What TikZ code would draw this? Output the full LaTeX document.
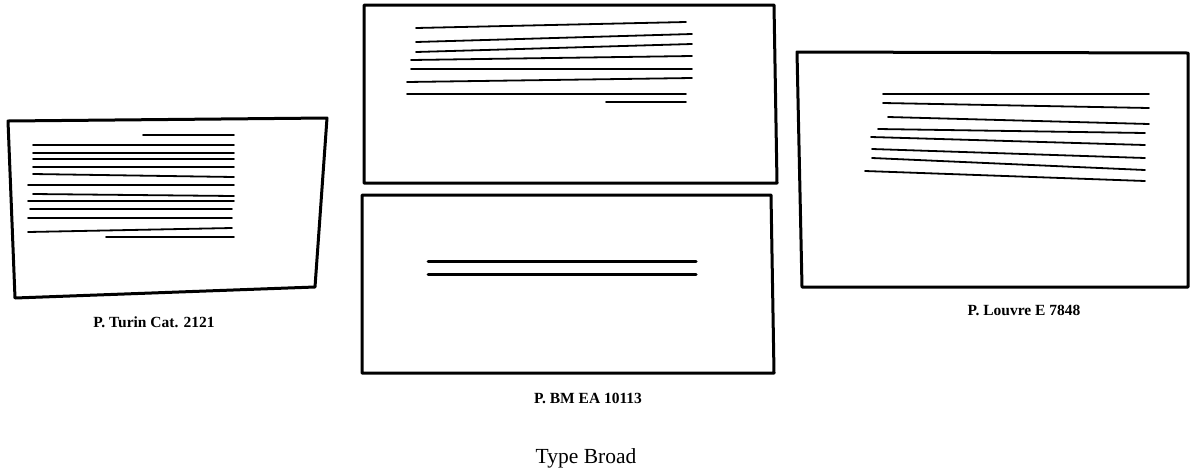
\documentclass[tikz,border=0pt]{standalone}
\usepackage{fontspec}
\setmainfont{Liberation Serif}
\begin{document}
\begin{tikzpicture}[x=1pt, y=-1pt, line cap=round,
    sheet/.style={line width=3pt, line join=round},
    writing/.style={line width=1.8pt},
    siglum/.style={font=\fontsize{15.5}{18}\selectfont\bfseries}]
    \useasboundingbox (0,0) rectangle (1190,472);
    % P. Turin Cat. 2121
    \draw[sheet] (8,121) -- (327,118) -- (315,287) -- (15,298) -- cycle;
    \draw[writing] (143,135) -- (234,135);
    \draw[writing] (33,145) -- (234,145);
    \draw[writing] (33,153) -- (234,153);
    \draw[writing] (33,159) -- (234,159);
    \draw[writing] (33,167) -- (234,167);
    \draw[writing] (33,174) -- (234,177);
    \draw[writing] (28,185) -- (234,185);
    \draw[writing] (33,194) -- (234,196);
    \draw[writing] (28,201) -- (234,201);
    \draw[writing] (30,209) -- (232,209);
    \draw[writing] (28,218) -- (232,218);
    \draw[writing] (28,232) -- (232,228);
    \draw[writing] (106,237) -- (234,237);
    \node[siglum] (turin) at (154,322) {P. Turin Cat. 2121};
    % P. BM EA 10113, upper sheet
    \draw[sheet] (364,5) -- (774,5) -- (777,183) -- (364,183) -- cycle;
    \draw[writing] (416,28) -- (686,22);
    \draw[writing] (416,42) -- (692,34);
    \draw[writing] (416,52) -- (692,44);
    \draw[writing] (411,60) -- (692,56);
    \draw[writing] (411,69) -- (692,69);
    \draw[writing] (407,82) -- (692,78);
    \draw[writing] (407,94) -- (686,94);
    \draw[writing] (606,102) -- (686,102);
    % P. BM EA 10113, lower sheet
    \draw[sheet] (362,195) -- (771,195) -- (774,373) -- (362,373) -- cycle;
    \draw[writing, line width=3pt] (428,261) -- (696,261);
    \draw[writing, line width=3pt] (428,274) -- (696,274);
    \node[siglum] (bm) at (588,398) {P. BM EA 10113};
    % P. Louvre E 7848
    \draw[sheet] (797,52) -- (1188,53) -- (1188,287) -- (802,287) -- cycle;
    \draw[writing] (883,94) -- (1149,94);
    \draw[writing] (883,103) -- (1149,108);
    \draw[writing] (888,117) -- (1149,124);
    \draw[writing] (878,129) -- (1145,133);
    \draw[writing] (871,137) -- (1145,145);
    \draw[writing] (872,149) -- (1145,158);
    \draw[writing] (872,158) -- (1145,170);
    \draw[writing] (865,171) -- (1145,181);
    \node[siglum] (louvre) at (1024,310) {P. Louvre E 7848};
    % caption
    \node[font=\fontsize{21.5}{25}\selectfont] (type) at (586,458) {Type Broad};
\end{tikzpicture}
\end{document}
